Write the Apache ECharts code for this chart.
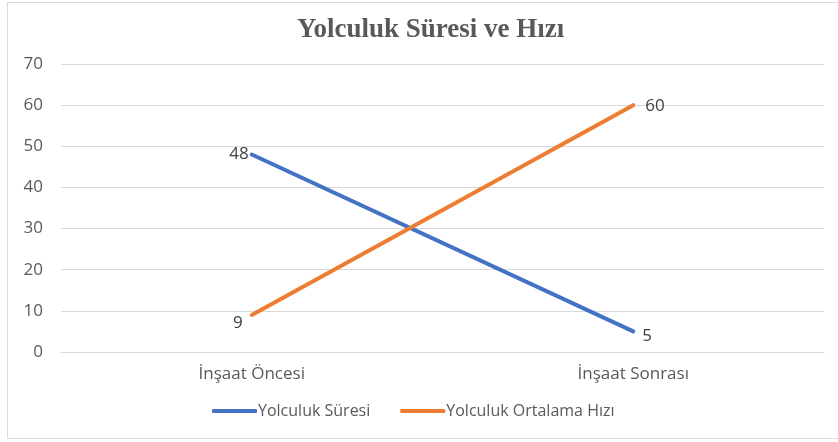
<!DOCTYPE html>
<html>
<head>
<meta charset="utf-8">
<style>
  html, body { margin: 0; padding: 0; background: #fff; }
  #chart { width: 838px; height: 442px; }
</style>
<script src="https://cdn.jsdelivr.net/npm/echarts@6/dist/echarts.min.js"></script>
</head>
<body>
<div id="chart"></div>
<script>
  var categories = ['İnşaat Öncesi', 'İnşaat Sonrası'];
  var sureValues = [48, 5];
  var hizValues = [9, 60];
  var seriesNames = ['Yolculuk Süresi', 'Yolculuk Ortalama Hızı'];

  var myChart = echarts.init(document.getElementById('chart'));
  var textFont = '"Open Sans", "Noto Sans", sans-serif';

  // label beside the first point on the left, beside the last point on the right
  function withLabels(values, offsets) {
    return values.map(function (v, i) {
      return {
        value: v,
        label: {
          position: i === 0 ? 'left' : 'right',
          offset: offsets[i]
        }
      };
    });
  }

  myChart.setOption({
    animation: false,
    color: ['#4472C4', '#ED7D31'],
    title: {
      text: 'Yolculuk Süresi ve Hızı',
      left: 292,
      top: 12,
      textStyle: {
        fontFamily: '"Liberation Serif", "Times New Roman", serif',
        fontWeight: 'bold',
        fontSize: 27,
        color: '#595959'
      }
    },
    graphic: [{
      type: 'rect',
      shape: { x: 7.5, y: 2.5, width: 840, height: 436 },
      style: { fill: 'none', stroke: '#d9d9d9', lineWidth: 1 },
      silent: true
    }],
    legend: {
      bottom: 18,
      left: 207,
      itemWidth: 45,
      itemHeight: 4,
      itemGap: 30,
      icon: 'roundRect',
      textStyle: { fontFamily: textFont, fontSize: 16, color: '#595959', padding: [0, 0, 0, -4] },
      data: seriesNames
    },
    grid: { left: 61, right: 14, top: 64, bottom: 90 },
    xAxis: {
      type: 'category',
      data: categories,
      boundaryGap: true,
      axisLine: { show: true, lineStyle: { color: '#d9d9d9' } },
      axisTick: { show: false },
      axisLabel: { fontFamily: textFont, fontSize: 17, color: '#595959', margin: 14 }
    },
    yAxis: {
      type: 'value',
      min: 0,
      max: 70,
      interval: 10,
      axisLine: { show: false },
      axisTick: { show: false },
      splitLine: { lineStyle: { color: '#d9d9d9', width: 1 } },
      axisLabel: { fontFamily: textFont, fontSize: 17, color: '#595959', margin: 18 }
    },
    series: [
      {
        name: seriesNames[0],
        type: 'line',
        data: withLabels(sureValues, [[-2, 0], [8, 5]]),
        symbol: 'circle',
        symbolSize: 0.1,
        showSymbol: true,
        lineStyle: { width: 4, cap: 'round' },
        label: { show: true, fontFamily: textFont, fontSize: 17, color: '#404040', distance: 1 }
      },
      {
        name: seriesNames[1],
        type: 'line',
        data: withLabels(hizValues, [[-8, 8], [11, 1]]),
        symbol: 'circle',
        symbolSize: 0.1,
        showSymbol: true,
        lineStyle: { width: 4, cap: 'round' },
        label: { show: true, fontFamily: textFont, fontSize: 17, color: '#404040', distance: 1 }
      }
    ]
  });
</script>
</body>
</html>
